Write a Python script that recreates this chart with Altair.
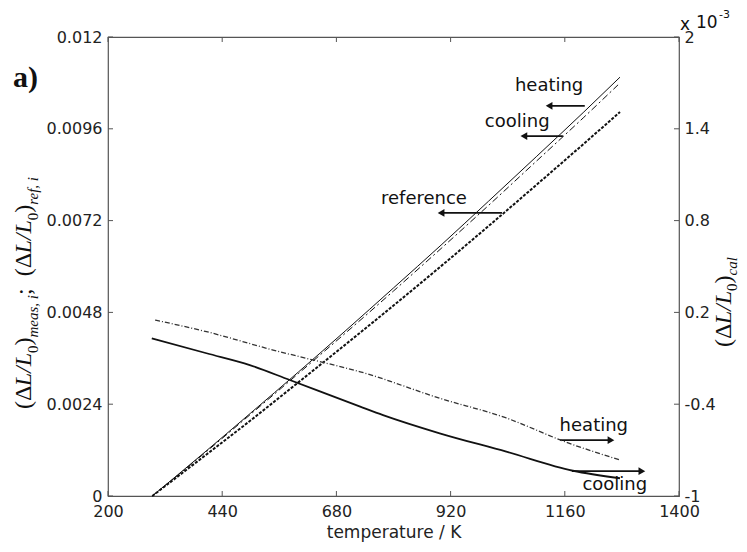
import altair as alt
import pandas as pd

# ---------------- data ----------------
x_ticks = [200, 440, 680, 920, 1160, 1400]
yl_ticks = [0, 0.0024, 0.0048, 0.0072, 0.0096, 0.012]
yr_ticks = [-1, -0.4, 0.2, 0.8, 1.4, 2]

# left axis: (dL/L0) measured / reference, rising curves
T_heat_rise = [293, 400, 500, 600, 700, 800, 900, 1000, 1100, 1200, 1276]
heat_rise = [0, 0.00111, 0.00217, 0.00324, 0.00433, 0.00544, 0.00656, 0.00771, 0.00887, 0.01004, 0.01095]
T_cool_rise = [293, 400, 500, 600, 700, 800, 900, 1000, 1100, 1200, 1272]
cool_rise = [0, 0.00109, 0.00214, 0.00320, 0.00427, 0.00536, 0.00647, 0.00760, 0.00875, 0.00990, 0.01075]
T_ref_rise = [293, 400, 500, 600, 700, 800, 900, 1000, 1100, 1200, 1276]
ref_rise = [0, 0.00102, 0.00198, 0.00297, 0.00397, 0.00498, 0.00601, 0.00706, 0.00813, 0.00921, 0.01004]

# right axis: (dL/L0)_cal in units of 1e-3, falling curves
T_heat_fall = [299, 407, 547, 631, 730, 897, 1037, 1160, 1276]
heat_fall = [0.150, 0.074, -0.046, -0.111, -0.188, -0.361, -0.490, -0.645, -0.765]
T_cool_fall = [292, 407, 498, 582, 730, 778, 897, 1037, 1177, 1276]
cool_fall = [0.031, -0.067, -0.144, -0.242, -0.416, -0.471, -0.590, -0.710, -0.835, -0.884]

# annotations (data coordinates, left axis)
ann_text = ["heating", "cooling", "reference", "heating", "cooling"]
ann_T = [1127, 1060, 864, 1221, 1265]
ann_v = [0.01072, 0.00978, 0.00777, 0.00183, 0.00029]
arr_tail = [1202, 1156, 1028, 1150, 1175]
arr_head = [1127, 1074, 900, 1257, 1322]
arr_v = [0.01020, 0.00941, 0.00740, 0.00146, 0.00065]
arr_dir = ["left", "left", "left", "right", "right"]

# ---------------- styling ----------------
W, H = 571, 459
SANS = "DejaVu Sans"
SERIF = "Liberation Serif"
INK = "#111111"

XS = alt.Scale(domain=[200, 1400], nice=False, zero=False)
YL = alt.Scale(domain=[0, 0.012], nice=False, zero=False)
YR = alt.Scale(domain=[-1, 2], nice=False, zero=False)

common = dict(ticks=False, domain=False, grid=False, labelFont=SANS, labelFontSize=16,
              labelColor="#222222", labelFlush=False, labelOverlap=False,
              labelExpr="'' + datum.value")
x_axis = alt.Axis(values=x_ticks, labelPadding=7, title="temperature / K", titleFont=SANS,
                  titleFontSize=17, titleFontWeight="normal", titleColor="#222222",
                  titlePadding=5, **common)
yl_axis = alt.Axis(values=yl_ticks, orient="left", labelPadding=6, title="", **common)
yr_axis = alt.Axis(values=yr_ticks, orient="right", labelPadding=5, title="", **common)


def X(field):
    return alt.X(field, type="quantitative", scale=XS, axis=x_axis)


def YLe(field):
    return alt.Y(field, type="quantitative", scale=YL, axis=yl_axis)


def YRe(field):
    return alt.Y(field, type="quantitative", scale=YR, axis=yr_axis)


def line(T, v, yfun, **mark):
    df = pd.DataFrame({"T": T, "v": v})
    return alt.Chart(df).mark_line(interpolate="monotone", **mark).encode(
        x=X("T"), y=yfun("v"), order="T:Q")


def txt(text, x, y, size, font=SANS, style="normal", weight="normal", angle=0, align="left",
        baseline="alphabetic"):
    props = dict(font=font, fontSize=size, fontStyle=style, fontWeight=weight, align=align,
                 baseline=baseline, color=INK)
    if angle:
        props["angle"] = angle
    return alt.Chart(pd.DataFrame({"t": [text]})).mark_text(**props).encode(
        x=alt.value(x), y=alt.value(y), text="t:N")


# approximate Times-like advance widths (em) for laying out rotated rich text
EM = {"(": .333, ")": .333, "Δ": .612, "L": .556, "/": .278, "0": .5, "m": .722, "e": .444,
      "a": .5, "s": .389, ",": .25, " ": .25, "i": .278, ";": .278, "r": .389, "f": .278,
      "c": .444, "l": .278}
MAIN, SUB = 24, 15


def rotated_title(segments, x_main, x_sub, y_start):
    """segments: list of (text, is_sub, italic). Text reads bottom-to-top."""
    out = []
    y = y_start
    for text, is_sub, italic in segments:
        size = SUB if is_sub else MAIN
        out.append(txt(text, x_sub if is_sub else x_main, y, size, font=SERIF,
                       style="italic" if italic else "normal", angle=270))
        y -= sum(EM.get(ch, .5) for ch in text) * size
    return out


left_title_segments = [("(Δ", False, False), ("L/L", False, True), ("0", True, False),
                       (")", False, False), ("meas, i", True, True), (" ; ", False, False),
                       ("(Δ", False, False), ("L/L", False, True), ("0", True, False),
                       (")", False, False), ("ref, i", True, True)]
right_title_segments = [("(Δ", False, False), ("L/L", False, True), ("0", True, False),
                        (")", False, False), ("cal", True, True)]

# ---------------- left layer ----------------
l_heat = line(T_heat_rise, heat_rise, YLe, color=INK, strokeWidth=1)
l_cool = line(T_cool_rise, cool_rise, YLe, color=INK, strokeWidth=1, strokeDash=[7, 3, 2, 3])
l_ref = line(T_ref_rise, ref_rise, YLe, color=INK, strokeWidth=2, strokeDash=[3, 1.5])

ann_df = pd.DataFrame({"t": ann_text, "T": ann_T, "v": ann_v})
ann = alt.Chart(ann_df).mark_text(font=SANS, fontSize=18, color=INK, align="center",
                                  baseline="middle").encode(x=X("T"), y=YLe("v"), text="t:N")
arr_df = pd.DataFrame({"T1": arr_tail, "T2": arr_head, "v": arr_v, "d": arr_dir})
shafts = alt.Chart(arr_df).mark_rule(color=INK, strokeWidth=1.8).encode(
    x=X("T1"), x2="T2:Q", y=YLe("v"))
heads = alt.Chart(arr_df).mark_point(filled=True, size=60, color=INK, opacity=1).encode(
    x=X("T2"), y=YLe("v"),
    shape=alt.Shape("d:N", scale=alt.Scale(domain=["left", "right"],
                                           range=["triangle-left", "triangle-right"]), legend=None))

xt_df = pd.DataFrame({"tx": x_ticks})
xt_bot = alt.Chart(xt_df).mark_rule(color="#555555").encode(x=X("tx"), y=alt.value(H), y2=alt.value(H - 5))
xt_top = alt.Chart(xt_df).mark_rule(color="#555555").encode(x=X("tx"), y=alt.value(0), y2=alt.value(5))
ylt_df = pd.DataFrame({"tv": yl_ticks})
yl_t = alt.Chart(ylt_df).mark_rule(color="#555555").encode(y=YLe("tv"), x=alt.value(0), x2=alt.value(5))

texts = [
    txt("a)", -95, 50, 30, font=SERIF, weight="bold"),
    txt("x", 572, -7, 17),
    txt("10", 588, -9, 17),
    txt("-3", 611, -19, 11),
]
texts += rotated_title(left_title_segments, -77, -70, 372)
texts += rotated_title(right_title_segments, 623, 629, 310)

left = alt.layer(l_heat, l_cool, l_ref, xt_bot, xt_top, yl_t, shafts, heads, ann, *texts)

# ---------------- right layer ----------------
r_heat = line(T_heat_fall, heat_fall, YRe, color="#333333", strokeWidth=1.3, strokeDash=[5, 2, 1, 2])
r_cool = line(T_cool_fall, cool_fall, YRe, color=INK, strokeWidth=1.8)
yrt_df = pd.DataFrame({"tv": yr_ticks})
yr_t = alt.Chart(yrt_df).mark_rule(color="#555555").encode(y=YRe("tv"), x=alt.value(W), x2=alt.value(W - 5))
right = alt.layer(r_heat, r_cool, yr_t)

chart = (
    alt.layer(left, right)
    .resolve_scale(y="independent")
    .properties(width=W, height=H, autosize=alt.AutoSizeParams(type="none"),
                padding={"left": 100, "top": 29, "right": 60, "bottom": 48},
                background="white")
    .configure_view(stroke="#555555", strokeWidth=1.2)
)

chart.save("out.html", embed_options={"renderer": "svg", "actions": False})
